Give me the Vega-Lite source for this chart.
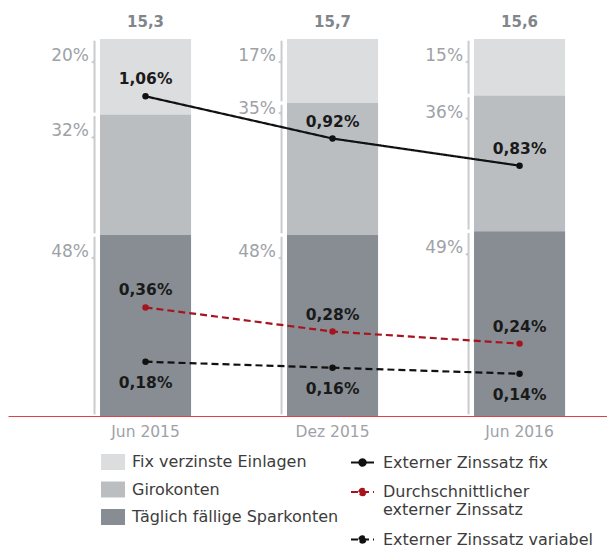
{
  "$schema": "https://vega.github.io/schema/vega-lite/v6.json",
  "width": 599,
  "height": 377,
  "autosize": "none",
  "padding": {"left": 8, "top": 39, "right": 0, "bottom": 132},
  "config": {"view": {"stroke": null}, "font": "DejaVu Sans"},
  "datasets": {
    "shares": [
      {"period": "Jun 2015", "cat": "Fix verzinste Einlagen", "share": 20},
      {"period": "Jun 2015", "cat": "Girokonten", "share": 32},
      {"period": "Jun 2015", "cat": "Täglich fällige Sparkonten", "share": 48},
      {"period": "Dez 2015", "cat": "Fix verzinste Einlagen", "share": 17},
      {"period": "Dez 2015", "cat": "Girokonten", "share": 35},
      {"period": "Dez 2015", "cat": "Täglich fällige Sparkonten", "share": 48},
      {"period": "Jun 2016", "cat": "Fix verzinste Einlagen", "share": 15},
      {"period": "Jun 2016", "cat": "Girokonten", "share": 36},
      {"period": "Jun 2016", "cat": "Täglich fällige Sparkonten", "share": 49}
    ],
    "totals": [
      {"period": "Jun 2015", "total": 15.3},
      {"period": "Dez 2015", "total": 15.7},
      {"period": "Jun 2016", "total": 15.6}
    ],
    "rates": [
      {"period": "Jun 2015", "series": "Externer Zinssatz fix", "rate": 1.06},
      {"period": "Dez 2015", "series": "Externer Zinssatz fix", "rate": 0.92},
      {"period": "Jun 2016", "series": "Externer Zinssatz fix", "rate": 0.83},
      {"period": "Jun 2015", "series": "Durchschnittlicher externer Zinssatz", "rate": 0.36},
      {"period": "Dez 2015", "series": "Durchschnittlicher externer Zinssatz", "rate": 0.28},
      {"period": "Jun 2016", "series": "Durchschnittlicher externer Zinssatz", "rate": 0.24},
      {"period": "Jun 2015", "series": "Externer Zinssatz variabel", "rate": 0.18},
      {"period": "Dez 2015", "series": "Externer Zinssatz variabel", "rate": 0.16},
      {"period": "Jun 2016", "series": "Externer Zinssatz variabel", "rate": 0.14}
    ]
  },
  "encoding": {
    "x": {
      "field": "period", "type": "nominal",
      "sort": ["Jun 2015", "Dez 2015", "Jun 2016"],
      "scale": {"paddingInner": 0.513, "paddingOuter": 0.358, "align": 0.687},
      "axis": {"title": null, "domainColor": "#d9434b", "domainWidth": 1, "ticks": false,
        "labelColor": "#9ea2a7", "labelFontSize": 15.5, "labelPadding": 8, "labelAngle": 0, "grid": false}
    }
  },
  "layer": [
    {
      "layer": [
        {
          "data": {"name": "shares"},
          "transform": [{"stack": "share", "groupby": ["period"], "sort": [{"field": "cat", "order": "descending"}], "offset": "normalize", "as": ["s0", "s1"]}],
          "mark": {"type": "bar"},
          "encoding": {
            "y": {"field": "s0", "type": "quantitative", "axis": null, "scale": {"domain": [0, 1], "nice": false}},
            "y2": {"field": "s1"},
            "color": {"field": "cat", "type": "nominal",
              "scale": {"domain": ["Fix verzinste Einlagen", "Girokonten", "Täglich fällige Sparkonten"], "range": ["#dcdddf", "#bbbec1", "#878d93"]},
              "legend": {"title": null, "orient": "none", "legendX": 97, "legendY": 415, "padding": 0,
                "symbolType": "M-1.5,-1H1.5V1H-1.5Z", "symbolSize": 256, "symbolStrokeWidth": 0,
                "labelFontSize": 16, "labelColor": "#3c3c3c", "labelOffset": 11, "rowPadding": 11.5, "labelLimit": 300}}
          }
        },
        {
          "data": {"name": "shares"},
          "transform": [{"stack": "share", "groupby": ["period"], "sort": [{"field": "cat", "order": "descending"}], "offset": "normalize", "as": ["s0", "s1"]}],
          "mark": {"type": "rule", "xOffset": -51, "yOffset": -1.7, "y2Offset": 1.7, "color": "#c9cbcd", "strokeWidth": 2},
          "encoding": {"y": {"field": "s0", "type": "quantitative"}, "y2": {"field": "s1"}}
        },
        {
          "data": {"name": "shares"},
          "transform": [
            {"stack": "share", "groupby": ["period"], "sort": [{"field": "cat", "order": "descending"}], "offset": "normalize", "as": ["s0", "s1"]},
            {"filter": "!(datum.period == 'Dez 2015' && datum.cat == 'Girokonten')"}
          ],
          "layer": [
            {
              "mark": {"type": "point", "shape": "triangle-left", "filled": true, "size": 14, "xOffset": -53, "yOffset": 23, "color": "#c9cbcd", "opacity": 1},
              "encoding": {"y": {"field": "s1", "type": "quantitative"}}
            },
            {
              "transform": [{"calculate": "datum.share + '%'", "as": "lbl"}],
              "mark": {"type": "text", "align": "right", "baseline": "middle", "dx": -56.5, "dy": 17, "fontSize": 17, "color": "#9ea2a7"},
              "encoding": {"y": {"field": "s1", "type": "quantitative"}, "text": {"field": "lbl"}}
            }
          ]
        },
        {
          "data": {"name": "shares"},
          "transform": [
            {"stack": "share", "groupby": ["period"], "sort": [{"field": "cat", "order": "descending"}], "offset": "normalize", "as": ["s0", "s1"]},
            {"filter": "datum.period == 'Dez 2015' && datum.cat == 'Girokonten'"}
          ],
          "layer": [
            {
              "mark": {"type": "point", "shape": "triangle-left", "filled": true, "size": 14, "xOffset": -53, "yOffset": 10, "color": "#c9cbcd", "opacity": 1},
              "encoding": {"y": {"field": "s1", "type": "quantitative"}}
            },
            {
              "transform": [{"calculate": "datum.share + '%'", "as": "lbl"}],
              "mark": {"type": "text", "align": "right", "baseline": "middle", "dx": -56.5, "dy": 6, "fontSize": 17, "color": "#9ea2a7"},
              "encoding": {"y": {"field": "s1", "type": "quantitative"}, "text": {"field": "lbl"}}
            }
          ]
        },
        {
          "data": {"name": "totals"},
          "transform": [{"calculate": "replace(format(datum.total, '.1f'), '.', ',')", "as": "lbl"}],
          "mark": {"type": "text", "baseline": "middle", "dy": -17, "fontSize": 15, "fontWeight": "bold", "color": "#80868c"},
          "encoding": {"y": {"datum": 1, "type": "quantitative"}, "text": {"field": "lbl"}}
        }
      ]
    },
    {
      "data": {"name": "rates"},
      "transform": [{"calculate": "replace(format(datum.rate, '.2f'), '.', ',') + '%'", "as": "lbl"}],
      "layer": [
        {
          "mark": {"type": "line", "strokeWidth": 2.2, "point": {"filled": true, "size": 42}},
          "encoding": {
            "y": {"field": "rate", "type": "quantitative", "axis": null, "scale": {"domain": [0, 1.25], "nice": false}},
            "color": {"field": "series", "type": "nominal",
              "scale": {"domain": ["Externer Zinssatz fix", "Durchschnittlicher externer Zinssatz", "Externer Zinssatz variabel"], "range": ["#111111", "#a6151f", "#111111"]},
              "legend": null},
            "strokeDash": {"field": "series", "type": "nominal",
              "scale": {"domain": ["Externer Zinssatz fix", "Durchschnittlicher externer Zinssatz", "Externer Zinssatz variabel"], "range": [[1, 0], [7, 4], [7, 4]]},
              "legend": {"title": null, "orient": "none", "legendX": 346, "legendY": 415, "padding": 0,
                "symbolType": "M-1.6,0H1.6M-0.45,0A0.45,0.45,0,1,1,0.45,0A0.45,0.45,0,1,1,-0.45,0Z", "symbolSize": 207, "symbolStrokeWidth": 2,
                "labelFontSize": 16, "labelColor": "#3c3c3c", "labelOffset": 12, "rowPadding": 12.5, "labelLimit": 300,
                "labelExpr": "datum.value == 'Durchschnittlicher externer Zinssatz' ? ['Durchschnittlicher', 'externer Zinssatz'] : datum.label",
                "encode": {"symbols": {"update": {
                  "fill": {"signal": "datum.value == 'Durchschnittlicher externer Zinssatz' ? '#a6151f' : '#111111'"},
                  "stroke": {"signal": "datum.value == 'Durchschnittlicher externer Zinssatz' ? '#a6151f' : '#111111'"}}}}}}
          }
        },
        {
          "transform": [{"filter": "datum.series != 'Externer Zinssatz variabel'"}],
          "mark": {"type": "text", "baseline": "middle", "dy": -17, "fontSize": 15.5, "fontWeight": "bold", "color": "#1a1a1a"},
          "encoding": {"y": {"field": "rate", "type": "quantitative"}, "text": {"field": "lbl"}}
        },
        {
          "transform": [{"filter": "datum.series == 'Externer Zinssatz variabel'"}],
          "mark": {"type": "text", "baseline": "middle", "dy": 21, "fontSize": 15.5, "fontWeight": "bold", "color": "#1a1a1a"},
          "encoding": {"y": {"field": "rate", "type": "quantitative"}, "text": {"field": "lbl"}}
        }
      ]
    }
  ],
  "resolve": {"scale": {"y": "independent", "color": "independent"}}
}
